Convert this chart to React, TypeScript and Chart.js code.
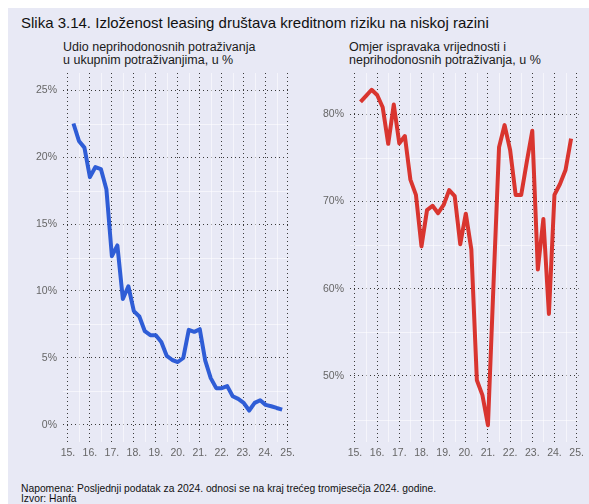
import React, { useEffect, useRef } from 'react';
import { Chart, registerables } from 'chart.js';

Chart.register(...registerables);

// Quarter positions (end of quarter, in years)
const quarters: number[] = [
  2015.25, 2015.5, 2015.75,
  2016.0, 2016.25, 2016.5, 2016.75,
  2017.0, 2017.25, 2017.5, 2017.75,
  2018.0, 2018.25, 2018.5, 2018.75,
  2019.0, 2019.25, 2019.5, 2019.75,
  2020.0, 2020.25, 2020.5, 2020.75,
  2021.0, 2021.25, 2021.5, 2021.75,
  2022.0, 2022.25, 2022.5, 2022.75,
  2023.0, 2023.25, 2023.5, 2023.75,
  2024.0, 2024.25, 2024.5, 2024.75,
];

// Udio neprihodonosnih potraživanja u ukupnim potraživanjima, u %
const nplShare: number[] = [
  22.5, 21.2, 20.7,
  18.5, 19.25, 19.1, 17.6,
  12.6, 13.4, 9.4, 10.35,
  8.5, 8.1, 7.0, 6.7,
  6.7, 6.2, 5.15, 4.85,
  4.7, 5.0, 7.1, 6.95,
  7.15, 4.8, 3.5, 2.75,
  2.75, 2.9, 2.15, 1.95,
  1.65, 1.08, 1.65, 1.85,
  1.5, 1.4, 1.27, 1.15,
];

// Omjer ispravaka vrijednosti i neprihodonosnih potraživanja, u %
const coverage: number[] = [
  81.4, 82.1, 82.8,
  82.2, 80.8, 76.6, 81.1,
  76.65, 77.5, 72.5, 70.75,
  64.85, 69.0, 69.5, 68.65,
  69.6, 71.3, 70.6, 65.1,
  68.6, 64.5, 49.5, 47.8,
  44.35, 60.5, 76.2, 78.75,
  75.9, 70.75, 70.75, 74.5,
  78.1, 62.2, 68.0, 57.1,
  70.75, 72.0, 73.6, 77.2,
];

const yearTicks: number[] = [2015, 2016, 2017, 2018, 2019, 2020, 2021, 2022, 2023, 2024, 2025];
const yearLabels: string[] = ['15.', '16.', '17.', '18.', '19.', '20.', '21.', '22.', '23.', '24.', '25.'];
const yearMinor: number[] = [2015.5, 2016.5, 2017.5, 2018.5, 2019.5, 2020.5, 2021.5, 2022.5, 2023.5, 2024.5];

const leftTicks: number[] = [0, 5, 10, 15, 20, 25];
const leftMinor: number[] = [2.5, 7.5, 12.5, 17.5, 22.5];
const rightTicks: number[] = [50, 60, 70, 80];
const rightMinor: number[] = [45, 55, 65, 75];

const title = 'Slika 3.14. Izloženost leasing društava kreditnom riziku na niskoj razini';
const leftSubtitle = ['Udio neprihodonosnih potraživanja', 'u ukupnim potraživanjima, u %'];
const rightSubtitle = ['Omjer ispravaka vrijednosti i', 'neprihodonosnih potraživanja, u %'];
const note = 'Napomena: Posljednji podatak za 2024. odnosi se na kraj trećeg tromjesečja 2024. godine.';
const source = 'Izvor: Hanfa';

const FONT = "'Liberation Sans', Arial, sans-serif";

const minorGridPlugin = {
  id: 'minorGrid',
  beforeDatasetsDraw(chart: any, _args: any, opts: any) {
    const { ctx, chartArea, scales } = chart;
    if (!opts || !opts.x) return;
    ctx.save();
    ctx.strokeStyle = 'rgba(255,255,255,0.55)';
    ctx.lineWidth = 1;
    for (const v of opts.x as number[]) {
      const px = Math.round(scales.x.getPixelForValue(v)) + 0.5;
      ctx.beginPath();
      ctx.moveTo(px, chartArea.top);
      ctx.lineTo(px, chartArea.bottom);
      ctx.stroke();
    }
    for (const v of opts.y as number[]) {
      const py = Math.round(scales.y.getPixelForValue(v)) + 0.5;
      ctx.beginPath();
      ctx.moveTo(chartArea.left, py);
      ctx.lineTo(chartArea.right, py);
      ctx.stroke();
    }
    ctx.restore();
  },
};

function makeChart(
  canvas: HTMLCanvasElement,
  values: number[],
  color: string,
  yTicks: number[],
  yMinor: number[],
  yMin: number,
  yMax: number,
  yAxisWidth: number,
  padRight: number,
) {
  return new Chart(canvas, {
    type: 'line',
    data: {
      datasets: [
        {
          data: quarters.map((q, i) => ({ x: q, y: values[i] })),
          borderColor: color,
          borderWidth: 4,
          pointRadius: 0,
          tension: 0,
          fill: false,
          borderCapStyle: 'butt',
          borderJoinStyle: 'round',
        },
      ],
    },
    options: {
      responsive: false,
      animation: false,
      devicePixelRatio: 1,
      layout: { padding: { top: 13, right: padRight, bottom: 0, left: 0 } },
      plugins: {
        legend: { display: false },
        tooltip: { enabled: false },
        title: { display: false },
        minorGrid: { x: yearMinor, y: yMinor },
      } as any,
      scales: {
        x: {
          type: 'linear',
          min: 2014.775,
          max: 2025.09,
          afterBuildTicks: (s: any) => {
            s.ticks = yearTicks.map((v) => ({ value: v }));
          },
          afterFit: (s: any) => {
            s.height = 28;
          },
          grid: { color: '#3a3a3a', lineWidth: 1, drawTicks: false },
          border: { display: false, dash: [1, 3] },
          ticks: {
            padding: 5,
            color: '#666666',
            font: { family: FONT, size: 10.5 },
            maxRotation: 0,
            autoSkip: false,
            callback: (v: any) => yearLabels[yearTicks.indexOf(Number(v))] ?? '',
          },
        },
        y: {
          type: 'linear',
          min: yMin,
          max: yMax,
          afterBuildTicks: (s: any) => {
            s.ticks = yTicks.map((v) => ({ value: v }));
          },
          afterFit: (s: any) => {
            s.width = yAxisWidth;
          },
          grid: { color: '#3a3a3a', lineWidth: 1, drawTicks: false },
          border: { display: false, dash: [1, 3] },
          ticks: {
            padding: 6,
            color: '#666666',
            font: { family: FONT, size: 10.5 },
            autoSkip: false,
            callback: (v: any) => `${v}%`,
          },
        },
      },
    } as any,
    plugins: [minorGridPlugin],
  });
}

export default function App() {
  const leftRef = useRef<HTMLCanvasElement>(null);
  const rightRef = useRef<HTMLCanvasElement>(null);

  useEffect(() => {
    const c1 = makeChart(leftRef.current!, nplShare, '#2f5dd6', leftTicks, leftMinor, -1.27, 26.27, 43, 8);
    const c2 = makeChart(rightRef.current!, coverage, '#d9352f', rightTicks, rightMinor, 42.43, 84.72, 45, 10);
    return () => {
      c1.destroy();
      c2.destroy();
    };
  }, []);

  const text = (style: React.CSSProperties): React.CSSProperties => ({
    position: 'absolute',
    whiteSpace: 'nowrap',
    fontFamily: FONT,
    margin: 0,
    ...style,
  });

  return (
    <div style={{ position: 'fixed', left: 0, top: 0, right: 0, bottom: 0, background: '#ffffff', overflow: 'hidden' }}>
      <div style={{ position: 'absolute', left: 8, top: 8, right: 0, bottom: 0, background: '#e8e9f5' }} />
      <div style={text({ left: 21, top: 14, fontSize: 15, lineHeight: '17px', color: '#111' })}>{title}</div>
      <div style={text({ left: 63, top: 41, fontSize: 12.5, lineHeight: '13px', color: '#1a1a1a' })}>
        {leftSubtitle[0]}
        <br />
        {leftSubtitle[1]}
      </div>
      <div style={text({ left: 349, top: 41, fontSize: 12.5, lineHeight: '13px', color: '#1a1a1a' })}>
        {rightSubtitle[0]}
        <br />
        {rightSubtitle[1]}
      </div>
      <canvas
        ref={leftRef}
        width={280}
        height={410}
        style={{ position: 'absolute', left: 20, top: 60, width: 280, height: 410 }}
      />
      <canvas
        ref={rightRef}
        width={284}
        height={410}
        style={{ position: 'absolute', left: 305, top: 60, width: 284, height: 410 }}
      />
      <div style={text({ left: 21, top: 484, fontSize: 10.3, lineHeight: '10px', color: '#111' })}>
        {note}
        <br />
        {source}
      </div>
    </div>
  );
}
